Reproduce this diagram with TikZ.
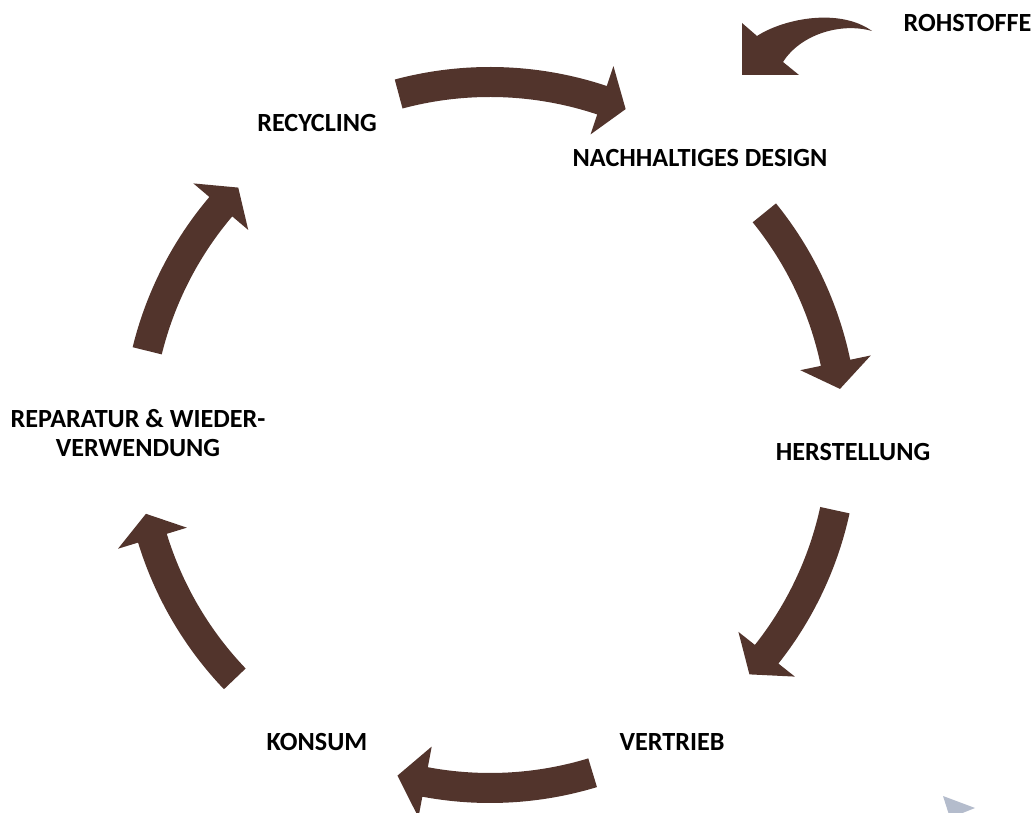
\documentclass[tikz,border=0pt]{standalone}
\usepackage{fontspec}
\setmainfont{Carlito}
\usetikzlibrary{positioning}
\definecolor{arrowbrown}{HTML}{52342C}
\definecolor{greyblue}{HTML}{B4BCCC}
\newcommand{\cyclearrow}[3]{%
  \fill[arrowbrown] (#1:368) arc[start angle=#1, end angle=#2, radius=368]
    -- (#2:389) -- (#3:353) -- (#2:317) -- (#2:338)
    arc[start angle=#2, end angle=#1, radius=338] -- cycle;}

\begin{document}
\begin{tikzpicture}[x=0.5pt, y=0.5pt,
    label/.style={font=\fontsize{13.1}{14.5}\selectfont\bfseries, align=center, inner sep=0pt}]
    \useasboundingbox (0,0) rectangle (1036,812);
    \clip (0,0) rectangle (1036,812);

    \node[label] (rohstoffe) at (967.5,789) {ROHSTOFFE};
    \node[label] (design) at (700,654) {NACHHALTIGES DESIGN};
    \node[label] (herstellung) at (853,360) {HERSTELLUNG};
    \node[label] (vertrieb) at (672,70) {VERTRIEB};
    \node[label] (konsum) at (317,70) {KONSUM};
    \node[label] (reparatur) at (138,379) {REPARATUR \& WIEDER-\\VERWENDUNG};
    \node[label] (recycling) at (317,689) {RECYCLING};
    \coordinate (c) at (490,377);

    \begin{scope}[shift={(c)}]
        \cyclearrow{105}{71.5}{67.4}
        \cyclearrow{39}{11.8}{7.5}
        \cyclearrow{-12.3}{-38.4}{-42.7}
        \cyclearrow{-73.1}{-100.6}{-105.2}
        \cyclearrow{-136.3}{-163}{-167.1}
        \cyclearrow{166.2}{139.7}{135.5}
    \end{scope}

    \fill[arrowbrown] (872,781) .. controls (840,804) and (785,794) .. (757,776)
        -- (742,789) -- (742,737) -- (799,737) -- (783,750)
        .. controls (800,777) and (840,790) .. (872,781) -- cycle;

    \fill[greyblue] (943,16) -- (975,4) -- (950,-6) -- cycle;
\end{tikzpicture}
\end{document}
